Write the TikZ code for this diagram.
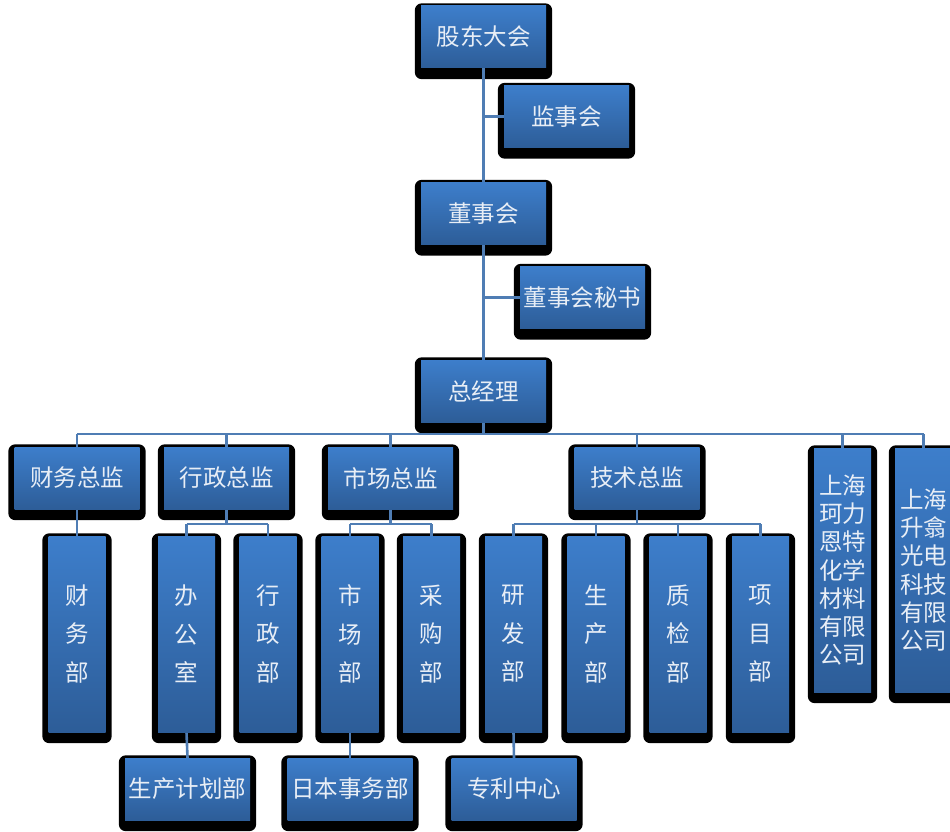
\documentclass[tikz,border=0pt]{standalone}
\usepackage{fontspec}
\newfontfamily\cjk{Noto Sans CJK SC}
\pgfdeclarelayer{shadow}
\pgfdeclarelayer{lines}
\pgfsetlayers{shadow,lines,main}
\definecolor{boxtop}{RGB}{61,126,203}
\definecolor{boxbot}{RGB}{45,93,152}
\definecolor{linec}{RGB}{79,125,180}
\definecolor{txtc}{RGB}{232,238,246}
\tikzset{
  orgbox/.style={rectangle, inner sep=0pt, top color=boxtop, bottom color=boxbot,
    draw=none, text=txtc, align=center,
    font=\cjk\fontsize{23.5}{28}\selectfont},
  wide/.style={orgbox, minimum width=125pt, minimum height=62pt},
  tall/.style={orgbox, minimum width=57pt, minimum height=196pt,
    font=\cjk\fontsize{23.5}{38.5}\selectfont},
  comp/.style={orgbox, minimum width=57pt, minimum height=244pt,
    font=\cjk\fontsize{23.5}{28.3}\selectfont},
  conn/.style={draw=linec, line width=2.6pt},
}
\begin{document}
\begin{tikzpicture}[x=1pt,y=-1pt]
\useasboundingbox (0,0) rectangle (950,832);
\clip (0,0) rectangle (950,832);
% top chain
\node[wide] (gd) at (483.5,37) {股东大会};
\node[wide] (js) at (566.5,116.5) {监事会};
\node[wide] (ds) at (483.5,213.5) {董事会};
\node[wide] (ms) at (582.5,297.5) {董事会秘书};
\node[wide] (zj) at (483.5,391) {总经理};
% level 2
\node[wide] (cw) at (77,478) {财务总监};
\node[wide] (xz) at (226.5,478) {行政总监};
\node[wide] (sc) at (390.5,478) {市场总监};
\node[wide] (js2) at (637,478) {技术总监};
\node[comp] (c1) at (842.5,570) {上海\\珂力\\恩特\\化学\\材料\\有限\\公司};
\node[comp] (c2) at (923.5,570) {上海\\升翕\\光电\\科技\\有限\\公司};
% level 3
\node[tall] (cwb) at (77,634) {财\\务\\部};
\node[tall] (bgs) at (186.5,634) {办\\公\\室};
\node[tall] (xzb) at (268,634) {行\\政\\部};
\node[tall] (scb) at (350,634) {市\\场\\部};
\node[tall] (cgb) at (431.5,634) {采\\购\\部};
\node[tall] (yfb) at (513.5,634) {研\\发\\部};
\node[tall] (scp) at (596,634) {生\\产\\部};
\node[tall] (zjb) at (678,634) {质\\检\\部};
\node[tall] (xmb) at (760.5,634) {项\\目\\部};
% level 4
\node[wide] (jh) at (187.5,789) {生产计划部};
\node[wide] (rb) at (350,789) {日本事务部};
\node[wide] (zl) at (514,789) {专利中心};
% shadows
\begin{pgfonlayer}{shadow}
\foreach \n in {gd,js,ds,ms,zj,cw,xz,sc,js2,c1,c2,cwb,bgs,xzb,scb,cgb,yfb,scp,zjb,xmb,jh,rb,zl}
  \fill[black, rounded corners=7pt] ([xshift=-6pt,yshift=2.5pt]\n.north west) rectangle ([xshift=6pt,yshift=-11pt]\n.south east);
\end{pgfonlayer}
% connectors
\begin{pgfonlayer}{lines}
\coordinate (bus) at (0,434);
\coordinate (sb) at (0,524);
\draw[conn] (gd.south) -- (zj.north);
\draw[conn] (js.west) -- (js.west -| gd.south);
\draw[conn] (ms.west) -- (ms.west -| gd.south);
\draw[conn] (zj.south) -- (zj.south |- bus);
\draw[conn] (cw.north |- bus) -- (c2.north |- bus);
\foreach \n in {cw,xz,sc,js2,c1,c2}
  \draw[conn] (\n.north) -- (\n.north |- bus);
\draw[conn] (cw.south) -- (cwb.north);
\draw[conn] (xz.south) -- (xz.south |- sb);
\draw[conn] (bgs.north |- sb) -- (xzb.north |- sb);
\draw[conn] (sc.south) -- (sc.south |- sb);
\draw[conn] (scb.north |- sb) -- (cgb.north |- sb);
\draw[conn] (js2.south) -- (js2.south |- sb);
\draw[conn] (yfb.north |- sb) -- (xmb.north |- sb);
\foreach \n in {bgs,xzb,scb,cgb,yfb,scp,zjb,xmb}
  \draw[conn] (\n.north) -- (\n.north |- sb);
\draw[conn] (bgs.south) -- (jh.north);
\draw[conn] (scb.south) -- (rb.north);
\draw[conn] (yfb.south) -- (zl.north);
\end{pgfonlayer}
\end{tikzpicture}
\end{document}
